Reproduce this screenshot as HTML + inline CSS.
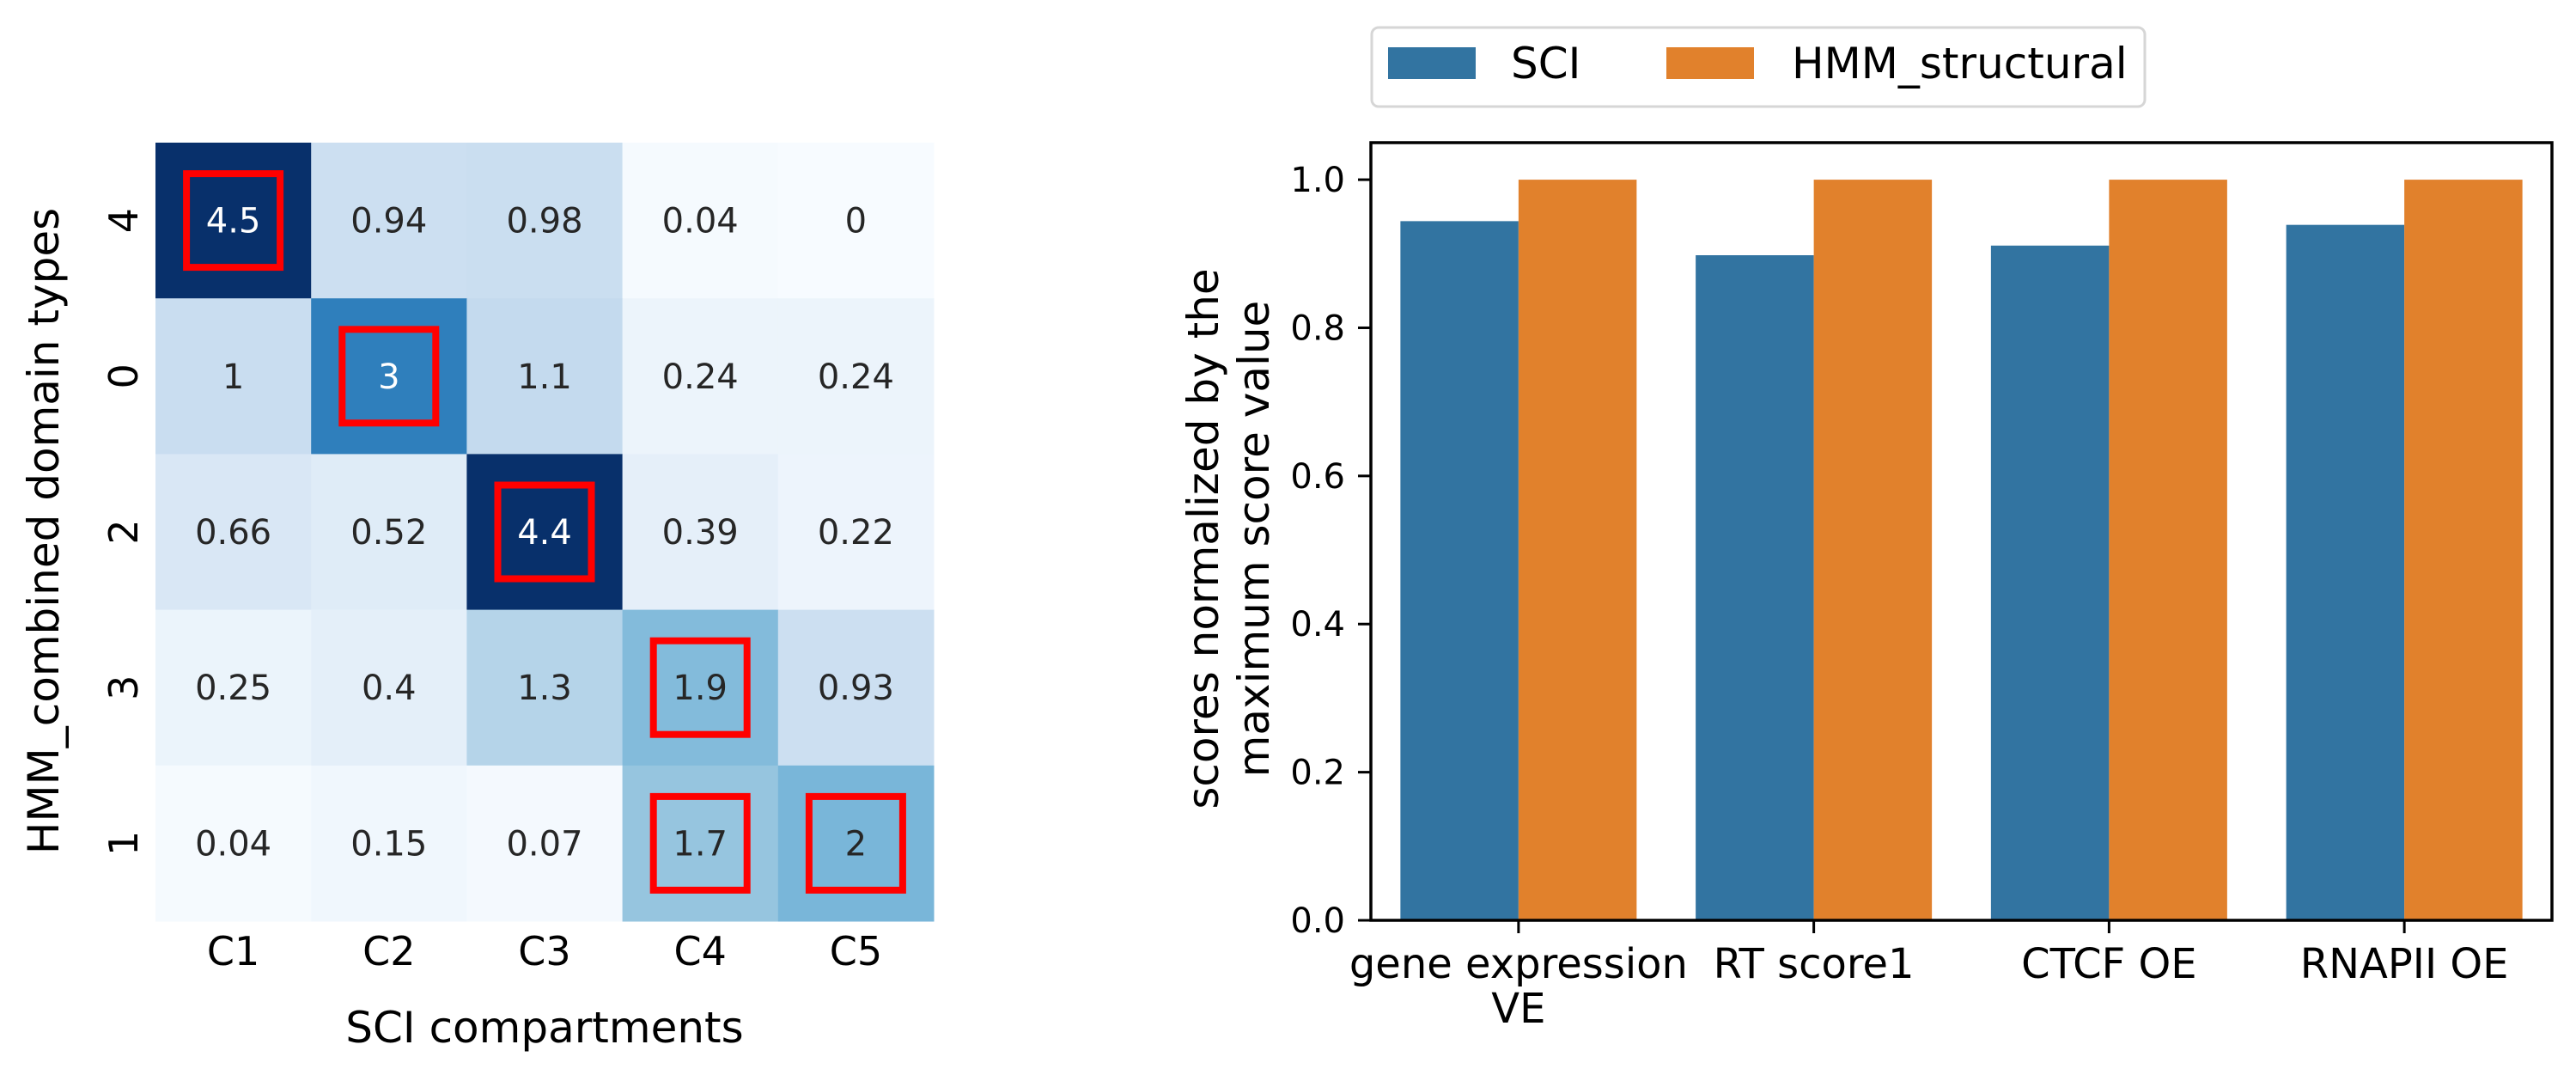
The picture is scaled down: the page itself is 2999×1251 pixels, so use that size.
<!DOCTYPE html>
<html><head><meta charset="utf-8">
<style>
html,body{margin:0;padding:0;background:#fff;}
svg{display:block;font-family:"DejaVu Sans","Liberation Sans",sans-serif;}
</style></head>
<body>
<svg id="fig" width="2999" height="1251" viewBox="0 0 2999 1251" xmlns="http://www.w3.org/2000/svg">
<rect width="2999" height="1251" fill="#fff"/>
<g id="heat"></g>
<g id="bars"></g>
</svg>
<script>
// ---------- Heatmap data ----------
const rowLabels = ["4","0","2","3","1"];
const colLabels = ["C1","C2","C3","C4","C5"];
const heatValues = [
  [4.5, 0.94, 0.98, 0.04, 0],
  [1, 3, 1.1, 0.24, 0.24],
  [0.66, 0.52, 4.4, 0.39, 0.22],
  [0.25, 0.4, 1.3, 1.9, 0.93],
  [0.04, 0.15, 0.07, 1.7, 2]
];
const highlightCells = [[0,0],[1,1],[2,2],[3,3],[4,3],[4,4]];

// ---------- Bar data ----------
const barCategories = [["gene expression","VE"],["RT score1"],["CTCF OE"],["RNAPII OE"]];
const seriesNames = ["SCI","HMM_structural"];
const sciValues = [0.944, 0.898, 0.911, 0.939];
const hmmValues = [1.0, 1.0, 1.0, 1.0];
const yTicks = [0.0, 0.2, 0.4, 0.6, 0.8, 1.0];

const NS = "http://www.w3.org/2000/svg";
function mk(tag, attrs, parent, text){
  const e = document.createElementNS(NS, tag);
  for (const k in attrs) e.setAttribute(k, attrs[k]);
  if (text !== undefined) e.textContent = text;
  parent.appendChild(e);
  return e;
}
const stops = [[0,"#f7fbff"],[0.125,"#deebf7"],[0.25,"#c6dbef"],[0.375,"#9ecae1"],[0.5,"#6baed6"],[0.625,"#4292c6"],[0.75,"#2171b5"],[0.875,"#08519c"],[1,"#08306b"]];
function hx(c){return [parseInt(c.slice(1,3),16),parseInt(c.slice(3,5),16),parseInt(c.slice(5,7),16)];}
function blues(t){
  t=Math.max(0,Math.min(1,t));
  for(let i=0;i<stops.length-1;i++){
    if(t<=stops[i+1][0]){
      const f=(t-stops[i][0])/(stops[i+1][0]-stops[i][0]);
      const a=hx(stops[i][1]),b=hx(stops[i+1][1]);
      return "rgb("+a.map((v,j)=>Math.round(v+(b[j]-v)*f)).join(",")+")";
    }
  }
  return stops[stops.length-1][1];
}

// ---------- Heatmap ----------
const heat = document.getElementById("heat");
const hx0=181, hy0=166, cw=181.2, ch=181.2, vmax=4.3;
heatValues.forEach((row,r)=>{
  row.forEach((v,c)=>{
    const t=v/vmax;
    const cell=mk("rect",{x:hx0+c*cw,y:hy0+r*ch,width:cw+0.5,height:ch+0.5,fill:blues(t)},heat);
    
    
    const tx=mk("text",{x:hx0+(c+0.5)*cw,y:hy0+(r+0.5)*ch+14,"text-anchor":"middle","font-size":"40",fill:t>0.6?"#ffffff":"#262626"},heat,String(v));
    
    
  });
});
highlightCells.forEach(([r,c])=>{
  const b=mk("rect",{x:hx0+(c+0.5)*cw-54.5,y:hy0+(r+0.5)*ch-54.5,width:109,height:109,fill:"none",stroke:"#ff0000","stroke-width":8},heat);
  
  
});
colLabels.forEach((l,c)=>{
  const t=mk("text",{x:hx0+(c+0.5)*cw,y:1123,"text-anchor":"middle","font-size":"46",fill:"#000"},heat,l);
  
  
});
rowLabels.forEach((l,r)=>{
  const cy=hy0+(r+0.5)*ch, x=160;
  const t=mk("text",{x:x,y:cy,"text-anchor":"middle","font-size":"46",fill:"#000",transform:"rotate(-90 "+x+" "+cy+")"},heat,l);
  
  
});
{
  const t=mk("text",{x:634,y:1213,"text-anchor":"middle","font-size":"50",fill:"#000"},heat,"SCI compartments");
  
  
  const y=mk("text",{x:68,y:618,"text-anchor":"middle","font-size":"50",fill:"#000",transform:"rotate(-90 68 618)"},heat,"HMM_combined domain types");
  
  
}

// ---------- Bar chart ----------
const bars=document.getElementById("bars");
const ax0=1596, ax1=2971, ay0=166, ay1=1071;
const yScale=v=>ay1-(v/1.05)*(ay1-ay0);
const slot=(ax1-ax0)/barCategories.length;
const xCenter=i=>ax0+(i+0.5)*slot;
const bw=slot*0.4;
const colors=["#3274a1","#e1812c"];
[sciValues,hmmValues].forEach((vals,s)=>{
  vals.forEach((v,i)=>{
    const x=xCenter(i)-bw+s*bw;
    const b=mk("rect",{x:x,y:yScale(v),width:bw,height:yScale(0)-yScale(v),fill:colors[s]},bars);
    
    
  });
});
const frame=mk("rect",{x:ax0,y:ay0,width:ax1-ax0,height:ay1-ay0,fill:"none",stroke:"#000","stroke-width":3.5},bars);


yTicks.forEach(v=>{
  const y=yScale(v);
  const tk=mk("line",{x1:ax0-15,x2:ax0,y1:y,y2:y,stroke:"#000","stroke-width":3},bars);
  
  
  const t=mk("text",{x:1566,y:y+14,"text-anchor":"end","font-size":"40",fill:"#000"},bars,v.toFixed(1));
  
  
});
barCategories.forEach((lines,i)=>{
  const x=xCenter(i);
  const tk=mk("line",{x1:x,x2:x,y1:ay1,y2:ay1+15,stroke:"#000","stroke-width":3},bars);
  
  
  lines.forEach((l,j)=>{
    const t=mk("text",{x:x,y:1138+j*52,"text-anchor":"middle","font-size":"48",fill:"#000"},bars,l);
    
    
  });
});
{
  const l1=mk("text",{x:1418,y:627,"text-anchor":"middle","font-size":"50",fill:"#000",transform:"rotate(-90 1418 627)"},bars,"scores normalized by the");
  
  
  const l2=mk("text",{x:1477,y:627,"text-anchor":"middle","font-size":"50",fill:"#000",transform:"rotate(-90 1477 627)"},bars,"maximum score value");
  
  
}
// legend
{
  const lg=mk("g",{},bars);
  
  
  const box=mk("rect",{x:1597,y:32,width:900,height:92,rx:8,fill:"#fff",stroke:"#d6d6d6","stroke-width":3},lg);
  
  
  const px=[1616,1940], tx=[1759,2086];
  seriesNames.forEach((n,s)=>{
    const p=mk("rect",{x:px[s],y:55,width:102,height:37,fill:colors[s]},lg);
    
    
    const t=mk("text",{x:tx[s],y:91,"font-size":"50",fill:"#000"},lg,n);
    
    
  });
}
</script>
</body></html>
